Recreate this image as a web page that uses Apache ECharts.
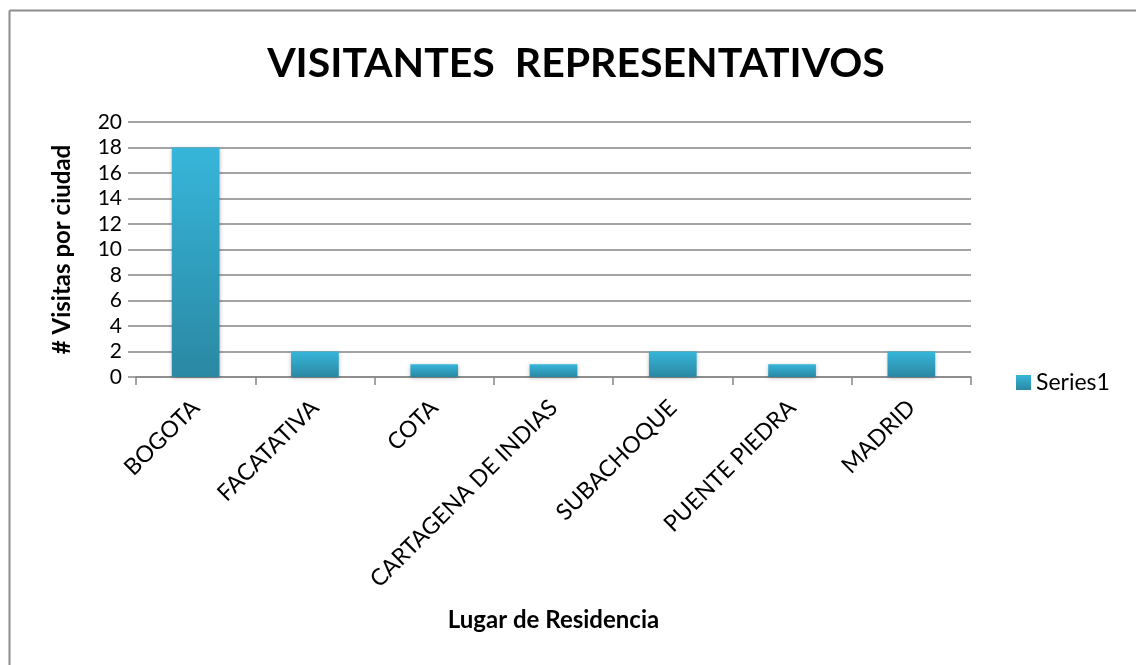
<!DOCTYPE html>
<html>
<head>
<meta charset="utf-8">
<script src="https://cdn.jsdelivr.net/npm/echarts@6/dist/echarts.min.js"></script>
<style>
  html, body { margin: 0; padding: 0; background: #fff; }
  #chart { width: 1136px; height: 665px; }
</style>
</head>
<body>
<div id="chart"></div>
<script>
const ciudades = ["BOGOTA", "FACATATIVA", "COTA", "CARTAGENA DE INDIAS", "SUBACHOQUE", "PUENTE PIEDRA", "MADRID"];
const visitas = [18, 2, 1, 1, 2, 1, 2];
const nombreSerie = "Series1";

const fuente = "Lato, 'Open Sans', sans-serif";

var dom = document.getElementById("chart");
var myChart = echarts.init(dom, null, { renderer: "canvas" });

var option = {
  animation: false,
  textStyle: { fontFamily: fuente },
  title: {
    text: "VISITANTES  REPRESENTATIVOS",
    left: 571,
    textAlign: "center",
    top: 38,
    textStyle: { fontFamily: fuente, fontSize: 41, fontWeight: "bold", color: "#000" },
  },
  graphic: [
    { type: "line", shape: { x1: 9.5, y1: 10.5, x2: 1136, y2: 10.5 }, style: { stroke: "#8c8c8c", lineWidth: 2 } },
    { type: "line", shape: { x1: 9.5, y1: 10.5, x2: 9.5, y2: 665 }, style: { stroke: "#8c8c8c", lineWidth: 2 } },
  ],
  legend: {
    left: 1011,
    top: 366,
    itemWidth: 15,
    itemHeight: 15,
    itemGap: 5,
    textStyle: { fontFamily: fuente, fontSize: 23, color: "#000" },
    data: [{ name: nombreSerie, icon: "rect" }],
  },
  grid: { left: 136, right: 165, top: 122, bottom: 288 },
  xAxis: {
    type: "category",
    data: ciudades,
    name: "Lugar de Residencia",
    nameLocation: "middle",
    nameGap: 231,
    nameTextStyle: { fontFamily: fuente, fontSize: 24, fontWeight: "bold", color: "#000" },
    axisLine: { lineStyle: { color: "#868686", width: 1.5 } },
    axisTick: { show: true, length: 8, lineStyle: { color: "#868686", width: 1.5 } },
    axisLabel: { rotate: 45, fontSize: 23, color: "#000", margin: 27 },
  },
  yAxis: {
    type: "value",
    min: 0,
    max: 20,
    interval: 2,
    name: "# Visitas por ciudad",
    nameLocation: "middle",
    nameGap: 62,
    nameRotate: 90,
    nameTextStyle: { fontFamily: fuente, fontSize: 24, fontWeight: "bold", color: "#000" },
    axisLine: { show: false },
    axisTick: { show: true, length: 8, lineStyle: { color: "#868686", width: 1.5 } },
    axisLabel: { fontSize: 21, color: "#000", margin: 14 },
    splitLine: { lineStyle: { color: "#868686", width: 1.5 } },
  },
  series: [
    {
      name: nombreSerie,
      type: "bar",
      data: visitas,
      barWidth: "40%",
      itemStyle: {
        color: new echarts.graphic.LinearGradient(0, 0, 0, 1, [
          { offset: 0, color: "#37b6da" },
          { offset: 1, color: "#2a88a3" },
        ]),
        shadowBlur: 4,
        shadowColor: "rgba(0,0,0,0.25)",
        shadowOffsetY: 1,
      },
    },
  ],
};

myChart.setOption(option);
</script>
</body>
</html>
